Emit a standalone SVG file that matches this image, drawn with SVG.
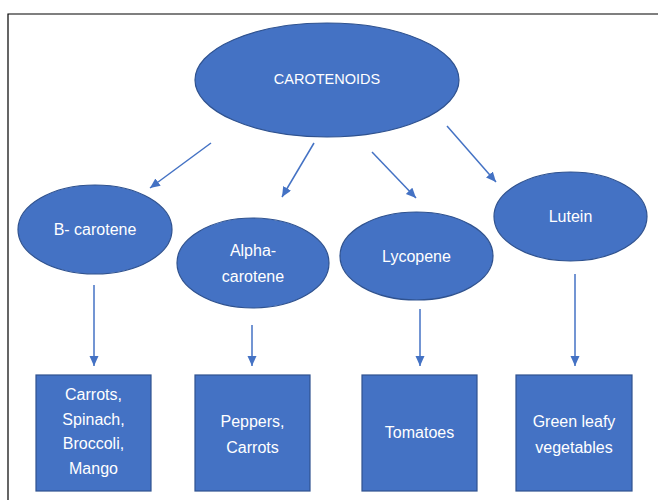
<svg xmlns="http://www.w3.org/2000/svg" width="659" height="500" viewBox="0 0 659 500">
<defs>
<marker id="ah" markerUnits="userSpaceOnUse" markerWidth="12" markerHeight="10" refX="10" refY="4.5" orient="auto">
<path d="M0,0 L10,4.5 L0,9 Z" fill="#4472C4"/>
</marker>
<style>
.n{fill:#4472C4;stroke:#2F528F;stroke-width:1.2}
.t{font-family:"Liberation Sans",Arial,sans-serif;font-size:16px;fill:#ffffff;text-anchor:middle;dominant-baseline:central}
.c{stroke:#4472C4;stroke-width:1.5;fill:none;marker-end:url(#ah)}
</style>
</defs>
<rect width="659" height="500" fill="#ffffff"/>
<path d="M8,500 V14 H658" fill="none" stroke="#000000" stroke-width="1.2"/>
<g id="connectors">
<line class="c" x1="211" y1="143" x2="150" y2="188"/>
<line class="c" x1="314" y1="143" x2="282" y2="197"/>
<line class="c" x1="372" y1="152" x2="416" y2="198"/>
<line class="c" x1="447" y1="126" x2="496" y2="182"/>
<line class="c" x1="94" y1="285" x2="94" y2="366"/>
<line class="c" x1="252" y1="325" x2="252" y2="366"/>
<line class="c" x1="420" y1="309" x2="420" y2="366"/>
<line class="c" x1="575" y1="274" x2="575" y2="366"/>
</g>
<g id="carotenoids">
<ellipse class="n" cx="327" cy="80" rx="132" ry="57"/>
<text class="t" x="327" y="79" style="font-size:14.5px">CAROTENOIDS</text>
</g>
<g id="b-carotene">
<ellipse class="n" cx="95" cy="229.5" rx="77" ry="44.5"/>
<text class="t" x="95" y="229">B- carotene</text>
</g>
<g id="alpha-carotene">
<ellipse class="n" cx="253" cy="263" rx="76" ry="45"/>
<text class="t" x="253" y="250">Alpha-</text>
<text class="t" x="253" y="276">carotene</text>
</g>
<g id="lycopene">
<ellipse class="n" cx="416.5" cy="256" rx="76.5" ry="44"/>
<text class="t" x="416.5" y="256">Lycopene</text>
</g>
<g id="lutein">
<ellipse class="n" cx="570.5" cy="216.5" rx="76.5" ry="44.5"/>
<text class="t" x="570.5" y="216">Lutein</text>
</g>
<g id="box-b">
<rect class="n" x="36" y="375" width="115" height="116"/>
<text class="t" x="93.5" y="394">Carrots,</text>
<text class="t" x="93.5" y="419">Spinach,</text>
<text class="t" x="93.5" y="443">Broccoli,</text>
<text class="t" x="93.5" y="468">Mango</text>
</g>
<g id="box-alpha">
<rect class="n" x="195" y="375" width="115" height="116"/>
<text class="t" x="252.5" y="421">Peppers,</text>
<text class="t" x="252.5" y="447">Carrots</text>
</g>
<g id="box-lycopene">
<rect class="n" x="362" y="375" width="115" height="116"/>
<text class="t" x="419.5" y="432">Tomatoes</text>
</g>
<g id="box-lutein">
<rect class="n" x="516" y="375" width="116" height="116"/>
<text class="t" x="574" y="421">Green leafy</text>
<text class="t" x="574" y="447">vegetables</text>
</g>
</svg>
